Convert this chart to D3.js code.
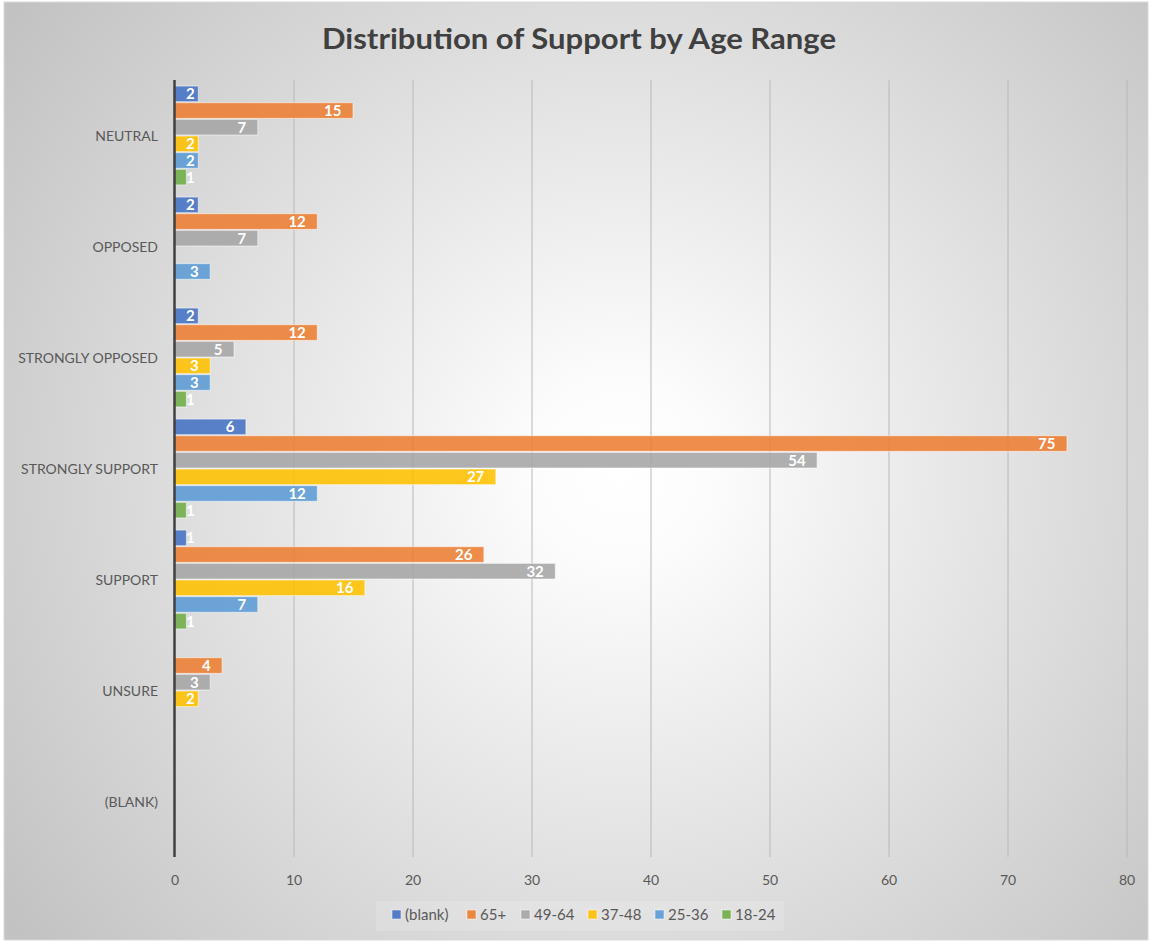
<!DOCTYPE html>
<html>
<head>
<meta charset="utf-8">
<script src="https://cdn.jsdelivr.net/npm/d3@7"></script>
<style>
  html, body { margin: 0; padding: 0; background: #ffffff; }
  svg { display: block; }
</style>
</head>
<body>
<svg id="chart" width="1151" height="942"></svg>
<script>
// ---- data ----
const categories = ["NEUTRAL", "OPPOSED", "STRONGLY OPPOSED", "STRONGLY SUPPORT", "SUPPORT", "UNSURE", "(BLANK)"];
const seriesNames = ["(blank)", "65+", "49-64", "37-48", "25-36", "18-24"];
const valsBlank  = [2, 2, 2, 6, 1, null, null];
const vals65     = [15, 12, 12, 75, 26, 4, null];
const vals4964   = [7, 7, 5, 54, 32, 3, null];
const vals3748   = [2, null, 3, 27, 16, 2, null];
const vals2536   = [2, 3, 3, 12, 7, null, null];
const vals1824   = [1, null, 1, 1, 1, null, null];
const seriesValues = [valsBlank, vals65, vals4964, vals3748, vals2536, vals1824];
const seriesColors = ["#4472C4", "#ED7D31", "#A5A5A5", "#FFC000", "#5B9BD5", "#70AD47"];
const xTicks = [0, 10, 20, 30, 40, 50, 60, 70, 80];
const title = "Distribution of Support by Age Range";

const FONT = "Lato, 'Open Sans', sans-serif";
const svg = d3.select("#chart");
const W = 1151, H = 942;

// background
const defs = svg.append("defs");
const grad = defs.append("radialGradient").attr("id", "bg")
  .attr("gradientUnits", "userSpaceOnUse")
  .attr("cx", 620).attr("cy", 470).attr("r", 760);
grad.append("stop").attr("offset", 0).attr("stop-color", "#ffffff");
grad.append("stop").attr("offset", 0.12).attr("stop-color", "#fcfcfc");
grad.append("stop").attr("offset", 1).attr("stop-color", "#c2c2c2");
svg.append("rect").attr("x", 4).attr("y", 2).attr("width", W - 7).attr("height", H - 4)
  .attr("fill", "url(#bg)").attr("stroke", "#d9d9d9").attr("stroke-width", 1);

// scales
const x = d3.scaleLinear().domain([0, 80]).range([174.5, 1126.5]);
const y0 = d3.scaleBand().domain(categories).range([80, 857]).paddingInner(0.1).paddingOuter(0.05);
const y1 = d3.scaleBand().domain(seriesNames).range([0, y0.bandwidth()]);

// gridlines
const gx = svg.append("g").attr("transform", "translate(0,857)")
  .call(d3.axisBottom(x).tickValues(xTicks).tickSize(-(857 - 80)).tickFormat(d => d));
gx.select(".domain").remove();
gx.selectAll(".tick line").attr("stroke", "#b8b8b8").attr("stroke-width", 1)
  .attr("opacity", d => d === 0 ? 0 : 1);
gx.selectAll(".tick text").attr("fill", "#595959").attr("font-family", FONT)
  .attr("font-size", 14).attr("dy", 0).attr("y", 28);

// title
svg.append("text").attr("x", 579).attr("y", 49).attr("text-anchor", "middle")
  .attr("font-family", FONT).attr("font-weight", "bold").attr("font-size", 29)
  .attr("fill", "#404040").attr("textLength", 514).attr("lengthAdjust", "spacingAndGlyphs")
  .text(title);

// bars
const groups = svg.append("g").selectAll("g").data(categories).join("g")
  .attr("transform", d => `translate(0,${y0(d)})`);

groups.each(function(cat, ci) {
  const g = d3.select(this);
  const rows = seriesNames.map((s, si) => ({ s, si, v: seriesValues[si][ci] })).filter(d => d.v != null);
  g.selectAll("rect").data(rows).join("rect")
    .attr("x", x(0))
    .attr("y", d => y1(d.s) + 0.5)
    .attr("width", d => x(d.v) - x(0))
    .attr("height", y1.bandwidth() - 1)
    .attr("fill", d => seriesColors[d.si])
    .attr("fill-opacity", 0.88)
    .attr("stroke", "#ffffff").attr("stroke-opacity", 0.55).attr("stroke-width", 1);
  g.selectAll("text").data(rows).join("text")
    .attr("y", d => y1(d.s) + y1.bandwidth() / 2)
    .attr("dy", "0.37em")
    .attr("font-family", FONT).attr("font-weight", "bold").attr("font-size", 15)
    .attr("fill", "#ffffff")
    .text(d => d.v)
    .each(function(d) {
      const w = this.getComputedTextLength();
      const right = x(d.v) - 11.5;
      const left = Math.max(right - w, x(0) + 11.5);
      d3.select(this).attr("x", left);
    });
});

// category labels
svg.append("g").selectAll("text").data(categories).join("text")
  .attr("x", 158).attr("y", d => y0(d) + y0.bandwidth() / 2)
  .attr("dy", "0.36em").attr("text-anchor", "end")
  .attr("font-family", FONT).attr("font-size", 14).attr("fill", "#595959")
  .text(d => d);

// vertical axis line
svg.append("line").attr("x1", x(0)).attr("x2", x(0)).attr("y1", 80).attr("y2", 857)
  .attr("stroke", "#404040").attr("stroke-width", 2.5);

// legend
const legendX = [392, 467, 521, 588, 655, 722];
svg.append("rect").attr("x", 376).attr("y", 901).attr("width", 408).attr("height", 30)
  .attr("fill", "#ffffff").attr("fill-opacity", 0.15);
const lg = svg.append("g").selectAll("g").data(seriesNames).join("g")
  .attr("transform", (d, i) => `translate(${legendX[i]},915)`);
lg.append("rect").attr("x", 0).attr("y", -5).attr("width", 9).attr("height", 9)
  .attr("fill", (d, i) => seriesColors[i]).attr("fill-opacity", 0.9)
  .attr("stroke", "#ffffff").attr("stroke-opacity", 0.5);
lg.append("text").attr("x", 13).attr("y", 0).attr("dy", "0.36em")
  .attr("font-family", FONT).attr("font-size", 15).attr("fill", "#595959")
  .text(d => d);
</script>
</body>
</html>
